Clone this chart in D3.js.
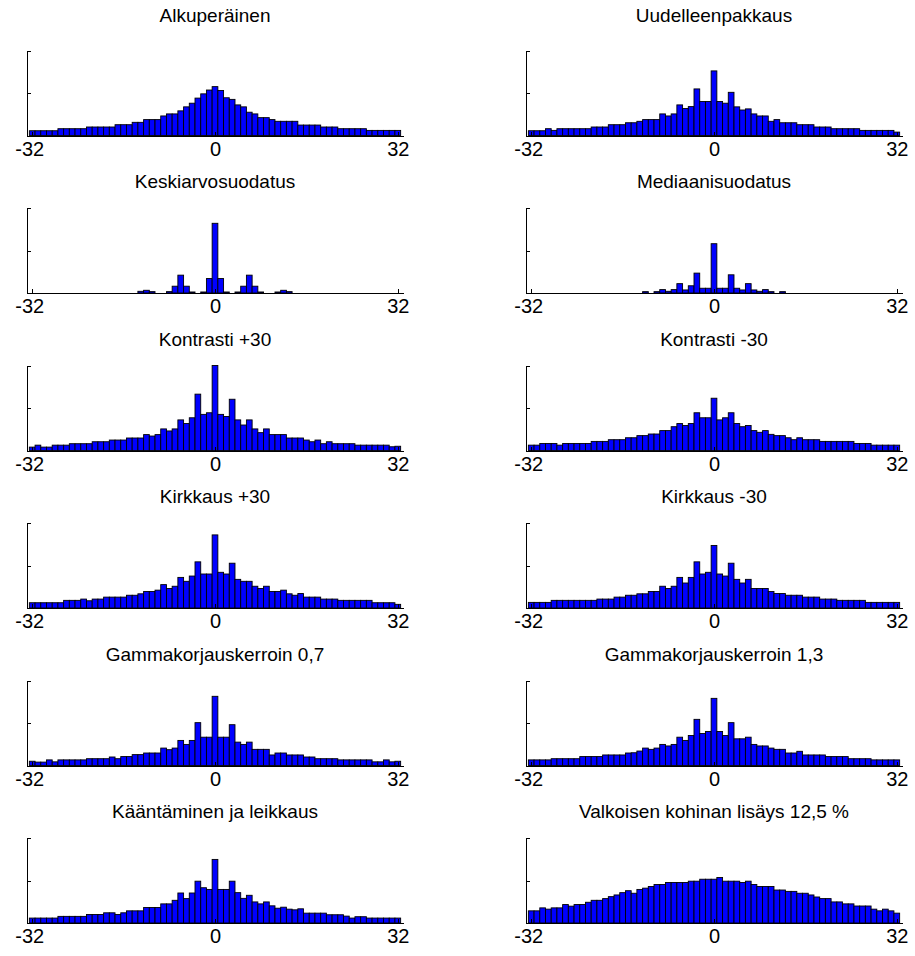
<!DOCTYPE html>
<html>
<head>
<meta charset="utf-8">
<script src="https://d3js.org/d3.v7.min.js"></script>
<style>
body { margin: 0; background: #fff; }
</style>
</head>
<body>
<div id="chart"></div>
<script>
// bin centres -32..32, shown ticks
var bins = d3.range(-32, 33);
var xTicks = [-32, 0, 32];
var yTicks = [0.5, 1];

var titles = [
    "Alkuperäinen", "Uudelleenpakkaus",
    "Keskiarvosuodatus", "Mediaanisuodatus",
    "Kontrasti +30", "Kontrasti -30",
    "Kirkkaus +30", "Kirkkaus -30",
    "Gammakorjauskerroin 0,7", "Gammakorjauskerroin 1,3",
    "Kääntäminen ja leikkaus", "Valkoisen kohinan lisäys 12,5 %"
];

// bar heights relative to the axis top (ylim = 1)
var alkuperainen = [0.056,0.056,0.056,0.056,0.056, 0.08,0.08,0.08,0.08,0.08, 0.10,0.10,0.10,0.10,0.10, 0.127,0.127,0.127, 0.155,0.155, 0.187,0.187,0.187, 0.23, 0.254,0.254, 0.29,0.337,0.38,0.44,0.49,0.535,
    0.575,
    0.53,0.444,0.425,0.36,0.337,0.274,0.254, 0.21,0.21, 0.187, 0.167,0.167,0.167,0.167, 0.123,0.123,0.123,0.123, 0.10,0.10,0.10, 0.08,0.08,0.08,0.08,0.08, 0.06,0.06,0.06,0.06,0.06,0.06];

var uudelleenpakkaus = [0.056,0.056,0.056, 0.08, 0.06, 0.08,0.08,0.08,0.08,0.08,0.08, 0.10,0.10,0.10, 0.127,0.127,0.127, 0.15,0.15, 0.167, 0.187,0.187,0.187, 0.254,0.23,0.254,0.36,0.317,0.34,0.548,0.40,0.40,
    0.76,
    0.40,0.38,0.508,0.337,0.30,0.313,0.254, 0.23,0.23, 0.167,0.187, 0.15,0.15,0.15, 0.127,0.127,0.127, 0.10,0.10,0.10, 0.08,0.08,0.08,0.08,0.08, 0.06,0.06,0.06,0.06,0.06,0.06, 0.04];

var keskiarvo = [0,0,0,0,0,0,0,0,0,0,0,0,0,0,0,0,0,0,0, 0.02,0.032,0.016,0,0,0.016,0.08,0.21,0.08,0.012,0,0.012,0.17,
    0.82,
    0.17,0.012,0,0.012,0.08,0.21,0.08,0.012,0,0,0.012,0.032,0.016, 0,0,0,0,0,0,0,0,0,0,0,0,0,0,0,0,0,0,0];

var mediaani = [0,0,0,0,0,0,0,0,0,0,0,0,0,0,0,0,0,0,0,0, 0.016,0,0.016,0.04,0.02,0.04,0.11,0.036,0.085,0.234,0.056,0.056,
    0.58,
    0.056,0.056,0.214,0.056,0.036,0.11,0.036,0.02,0.04,0.016,0,0.016, 0,0,0,0,0,0,0,0,0,0,0,0,0,0,0,0,0,0,0,0];

var kontrastiPlus = [0.04,0.063,0.04,0.04, 0.063,0.063,0.063, 0.08,0.08,0.08,0.08, 0.103,0.103,0.103, 0.123,0.123,0.123, 0.147,0.147,0.147, 0.187,0.17,0.187, 0.254,0.23,0.254,0.36,0.317,0.385,0.663,0.425,0.444,
    1.0,
    0.425,0.40,0.603,0.36,0.30,0.36,0.254,0.21,0.254, 0.187,0.187,0.187, 0.147,0.147,0.147, 0.123,0.103,0.123,0.08,0.103, 0.08,0.08,0.08,0.08, 0.063,0.063,0.063,0.063,0.063,0.063, 0.044,0.05];

var kontrastiMinus = [0.063,0.063, 0.083,0.083,0.083, 0.063, 0.083,0.083,0.083,0.083,0.083, 0.107,0.107,0.107, 0.127,0.127,0.127, 0.15,0.15, 0.175,0.175, 0.194,0.194, 0.234,0.234, 0.28,0.317,0.294,0.317,0.444,0.385,0.385,
    0.615,
    0.36,0.385,0.444,0.317,0.28,0.294,0.234,0.214,0.234,0.19, 0.175,0.175, 0.15,0.127,0.15, 0.127,0.127,0.127, 0.107,0.107,0.107,0.107,0.107,0.107, 0.083,0.083,0.083, 0.063,0.063,0.063,0.063,0.063];

var kirkkausPlus = [0.062,0.062,0.062,0.062,0.062,0.062, 0.09,0.09,0.09, 0.105,0.085, 0.105,0.105, 0.128,0.128,0.128,0.128, 0.15,0.15, 0.167, 0.194,0.194, 0.21,0.275,0.23,0.256,0.36,0.314,0.376,0.543,0.40,0.40,
    0.86,
    0.42,0.40,0.527,0.337,0.314,0.314,0.256,0.23,0.256, 0.194,0.194,0.21,0.167,0.15,0.17, 0.128,0.128,0.128, 0.105,0.105,0.105, 0.09,0.09,0.09,0.09,0.09,0.09, 0.062,0.062,0.062,0.062, 0.043];

var kirkkausMinus = [0.066,0.066,0.066,0.066, 0.09,0.09,0.09,0.09,0.09,0.09,0.09,0.09, 0.105,0.105,0.105, 0.128,0.128, 0.15,0.15, 0.167,0.167, 0.194,0.194, 0.256,0.23,0.256,0.36,0.294,0.36,0.543,0.40,0.42,
    0.736,
    0.40,0.376,0.527,0.337,0.294,0.337, 0.23,0.23,0.23, 0.194, 0.17,0.17, 0.15,0.15,0.15, 0.128,0.128,0.128, 0.105,0.105,0.105, 0.09,0.09,0.09,0.09,0.09, 0.066,0.066,0.066,0.066,0.066,0.066];

var gamma07 = [0.05,0.04,0.04,0.066,0.043, 0.066,0.066,0.066,0.066,0.066, 0.08,0.08,0.08,0.08, 0.10,0.08, 0.105,0.105, 0.128,0.128, 0.147,0.147,0.147, 0.205,0.186,0.205,0.295,0.248,0.295,0.504,0.333,0.333,
    0.814,
    0.333,0.333,0.48,0.275,0.248,0.275, 0.19,0.19,0.19, 0.124, 0.147,0.147, 0.124,0.124,0.124, 0.10,0.10, 0.08,0.08,0.08,0.08, 0.066,0.066,0.066,0.066,0.066,0.066, 0.043,0.043,0.066,0.043,0.05];

var gamma13 = [0.066,0.066,0.066,0.066, 0.08,0.08,0.08,0.08,0.08, 0.105,0.105,0.105,0.105, 0.124,0.124,0.124,0.124, 0.147,0.15,0.17,0.205,0.19,0.205,0.248,0.23,0.248,0.333,0.295,0.353,0.543,0.376,0.40,
    0.79,
    0.40,0.353,0.504,0.314,0.314,0.333,0.248,0.23,0.23,0.205, 0.19,0.19, 0.147,0.147,0.167, 0.124,0.124,0.124,0.124, 0.105,0.105,0.105,0.105, 0.08,0.08,0.08,0.08, 0.066,0.066,0.066,0.066,0.066];

var kaantaminen = [0.058,0.058,0.058,0.058,0.058, 0.078,0.078,0.078,0.078,0.078, 0.10,0.10,0.10, 0.12,0.12, 0.10,0.12, 0.143,0.143,0.143, 0.182,0.182,0.182, 0.225,0.225,0.267,0.353,0.287,0.353,0.492,0.415,0.395,
    0.748,
    0.395,0.395,0.492,0.357,0.29,0.326,0.248,0.225,0.248,0.202,0.174,0.186,0.163,0.155,0.167, 0.116,0.116,0.116,0.116, 0.097,0.097,0.097, 0.081,0.058, 0.074,0.074, 0.058,0.058,0.058,0.058,0.058,0.058];

var kohina = [0.143,0.143,0.178,0.163,0.178,0.178,0.217,0.198,0.217,0.217,0.244,0.267,0.267,0.287,0.31,0.33,0.357,0.38,0.35,0.395,0.41,0.43,0.453,0.453,0.477,0.477,0.477,0.477,0.492,0.492,0.515,0.515,
    0.515,
    0.535,0.492,0.492,0.492,0.477,0.492,0.453,0.43,0.43,0.43,0.388,0.388,0.372,0.372,0.35,0.35,0.33,0.306,0.287,0.287,0.248,0.248,0.225,0.225,0.2,0.2,0.2,0.163,0.143,0.163,0.143,0.116];

var series = [alkuperainen, uudelleenpakkaus, keskiarvo, mediaani, kontrastiPlus, kontrastiMinus,
    kirkkausPlus, kirkkausMinus, gamma07, gamma13, kaantaminen, kohina];

var width = 915, height = 956;
var colLeft = [26, 525], plotW = 377;
var rowTop = 50, rowStep = 157.5, plotH = 85;
var font = "'Liberation Sans', Arial, sans-serif";

var svg = d3.select("#chart").append("svg")
    .attr("width", width)
    .attr("height", height);

series.forEach(function(values, i){
    var col = i % 2, row = Math.floor(i / 2);
    var x = d3.scaleLinear().domain([-33, 33]).range([0, plotW]);
    var y = d3.scaleLinear().domain([0, 1]).range([plotH, 0]);

    var g = svg.append("g")
        .attr("transform", "translate(" + (colLeft[col] + 0.5) + "," + (rowTop + row * rowStep + 0.5) + ")");

    g.selectAll(".bar")
        .data(values)
        .enter()
        .append("rect")
        .attr("class", "bar")
        .attr("x", function(d, j){ return x(bins[j] - 0.5); })
        .attr("width", x(1) - x(0))
        .attr("y", function(d){ return y(d); })
        .attr("height", function(d){ return plotH - y(d); })
        .attr("fill", "#0000ff")
        .attr("stroke", "#000")
        .attr("stroke-width", 0.9);

    var xAxis = g.append("g")
        .attr("transform", "translate(0," + plotH + ")")
        .call(d3.axisBottom(x).tickValues(xTicks).tickSizeInner(-4).tickSizeOuter(0).tickPadding(6).tickFormat(d3.format("d")));

    var yAxis = g.append("g")
        .call(d3.axisLeft(y).tickValues(yTicks).tickSizeInner(-4).tickSizeOuter(0).tickFormat(""));

    g.selectAll(".domain, .tick line").attr("stroke", "#000").attr("shape-rendering", "crispEdges");
    xAxis.selectAll("text")
        .attr("font-family", font)
        .attr("font-size", 20)
        .attr("fill", "#000")
        .attr("dx", function(d){ return d < 0 ? -3 : 0; })
        .text(function(d){ return d < 0 ? "-" + Math.abs(d) : d; });

    // the top row's titles sit a bit higher in the original
    g.append("text")
        .attr("x", plotW / 2)
        .attr("y", row == 0 ? -29 : -20)
        .attr("text-anchor", "middle")
        .attr("font-family", font)
        .attr("font-size", 19)
        .attr("fill", "#000")
        .text(titles[i]);
});
</script>
</body>
</html>
